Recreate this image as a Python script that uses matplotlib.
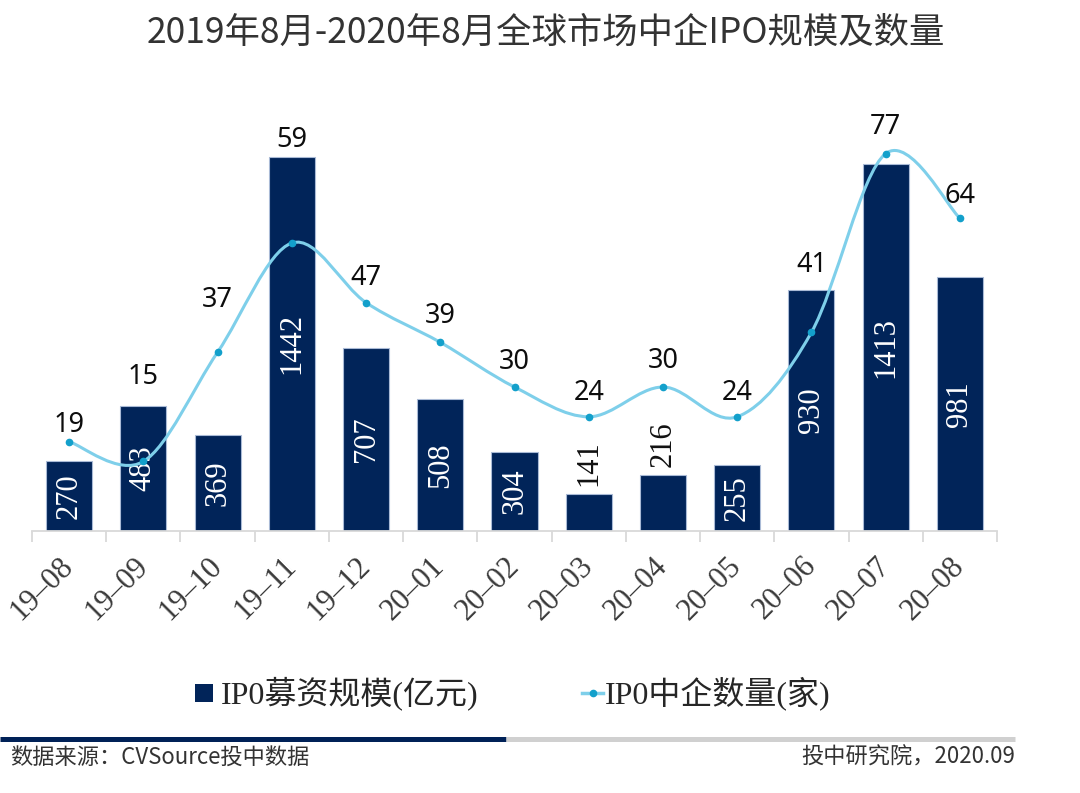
import matplotlib
matplotlib.use("Agg")
import matplotlib.pyplot as plt
from matplotlib.path import Path
from matplotlib.patches import PathPatch, Rectangle
from matplotlib.lines import Line2D
import numpy as np

# ---------------- data ----------------
months = ['19–08', '19–09', '19–10', '19–11', '19–12', '20–01', '20–02',
          '20–03', '20–04', '20–05', '20–06', '20–07', '20–08']
amount = [270, 483, 369, 1442, 707, 508, 304, 141, 216, 255, 930, 1413, 981]   # 亿元
count = [19, 15, 37, 59, 47, 39, 30, 24, 30, 24, 41, 77, 64]                   # 家

title = '2019年8月-2020年8月全球市场中企IPO规模及数量'
legend_bar = 'IP0募资规模(亿元)'
legend_line = 'IP0中企数量(家)'
source_left = '数据来源：CVSource投中数据'
source_right = '投中研究院，2020.09'

# label offsets above anchor (pixels) - layout only
count_label_dy = [17, 29, 52, 17, 25, 26, 25, 24, 26, 24, 25, 27, 22]

# ---------------- style ----------------
W, H = 1080, 793
NAVY = '#012459'
LINE = '#7ECFEA'
MARK = '#13A0CB'
GRAY = '#D9D9D9'
SERIF = ['Liberation Serif', 'Noto Sans CJK SC']
SANS = ['Noto Sans', 'Noto Sans CJK SC']
CJK = ['Noto Sans CJK SC', 'DejaVu Sans']

fig = plt.figure(figsize=(W / 100, H / 100), dpi=100)
fig.patch.set_facecolor('white')

ax_left, ax_right, ax_bottom, ax_top = 32, 997, 531, 100
ax = fig.add_axes([ax_left / W, 1 - ax_bottom / H, (ax_right - ax_left) / W, (ax_bottom - ax_top) / H])

x = np.arange(len(months))
y1max = 1661.6
y2lo, y2hi = 1.0, 87.8

ax.bar(x, amount, width=0.62, color=NAVY, edgecolor='#A9BAD6', linewidth=0.8, zorder=2)
ax.set_xlim(-0.5, len(months) - 0.5)
ax.set_ylim(0, y1max)

for s in ['top', 'right', 'left']:
    ax.spines[s].set_visible(False)
ax.spines['bottom'].set_color(GRAY)
ax.spines['bottom'].set_linewidth(1.3)
ax.set_yticks([])
ax.set_xticks(x)
ax.set_xticklabels(months, rotation=45, ha='right', va='center', rotation_mode='anchor',
                   family=SERIF, fontsize=22, color='#3A3A3A')
ax.tick_params(axis='x', which='major', length=0, pad=22)
ax.set_xticks(np.arange(-0.5, len(months), 1.0), minor=True)
ax.tick_params(axis='x', which='minor', length=8, width=1.3, color=GRAY, direction='out')

# bar value labels
for xi, v in zip(x, amount):
    if v >= 240:
        ax.text(xi, v / 2, str(v), rotation=90, ha='center', va='center',
                family=SERIF, fontsize=22, color='white', zorder=3)
    else:
        ax.annotate(str(v), xy=(xi, v), xytext=(0, 6), textcoords='offset points',
                    rotation=90, ha='center', va='bottom', family=SERIF, fontsize=22,
                    color='#111111', zorder=3)

# line on secondary axis
ax2 = ax.twinx()
ax2.set_ylim(y2lo, y2hi)
ax2.set_yticks([])
for s in ['top', 'right', 'left', 'bottom']:
    ax2.spines[s].set_visible(False)

pts = np.column_stack([x, count]).astype(float)
n = len(pts)
verts = [tuple(pts[0])]
codes = [Path.MOVETO]
for i in range(n - 1):
    p0 = pts[max(i - 1, 0)]
    p1 = pts[i]
    p2 = pts[i + 1]
    p3 = pts[min(i + 2, n - 1)]
    c1 = p1 + (p2 - p0) / 6.0
    c2 = p2 - (p3 - p1) / 6.0
    verts += [tuple(c1), tuple(c2), tuple(p2)]
    codes += [Path.CURVE4] * 3
ax2.add_patch(PathPatch(Path(verts, codes), facecolor='none', edgecolor=LINE, lw=2.2, zorder=4))
ax2.plot(x, count, 'o', ms=4.5, color=MARK, ls='none', zorder=5)

for xi, c, v, dy in zip(x, count, amount, count_label_dy):
    bar_top = y2lo + (v / y1max) * (y2hi - y2lo)
    anchor = max(c, bar_top)
    ax2.annotate(str(c), xy=(xi, anchor), xytext=(0, dy * 0.72), textcoords='offset points',
                 ha='center', va='center', family=SANS, fontsize=19.5, color='#0D0D0D', zorder=6)

# title
fig.text(546 / W, 1 - 33 / H, title, ha='center', va='center', family=CJK,
         fontsize=25.5, color='#333333')

# legend (manual)
ly = 1 - 693 / H
fig.add_artist(Rectangle((195 / W, 1 - 702 / H), 18 / W, 18 / H, transform=fig.transFigure,
                         facecolor=NAVY, edgecolor='none'))
fig.text(221 / W, ly, legend_bar, ha='left', va='center', family=SERIF, fontsize=23, color='#262626')
fig.add_artist(Line2D([582 / W, 603 / W], [ly, ly], transform=fig.transFigure, color=LINE, lw=2.5))
fig.add_artist(Line2D([592.5 / W], [ly], transform=fig.transFigure, marker='o', ms=4.5,
                      color=MARK, ls='none'))
fig.text(605 / W, ly, legend_line, ha='left', va='center', family=SERIF, fontsize=23, color='#262626')

# footer lines
fy = 1 - 739 / H
fig.add_artist(Line2D([0, 506 / W], [fy, fy], transform=fig.transFigure, color='#002157', lw=3.6,
                      solid_capstyle='butt'))
fig.add_artist(Line2D([506 / W, 1015 / W], [fy, fy], transform=fig.transFigure, color='#D0D0D0',
                      lw=3.6, solid_capstyle='butt'))

fig.text(10 / W, 1 - 757 / H, source_left, ha='left', va='center', family=CJK, fontsize=16,
         color='#333333')
fig.text(1015 / W, 1 - 757 / H, source_right, ha='right', va='center', family=CJK, fontsize=16,
         color='#333333')

fig.savefig('out.png', dpi=100, facecolor='white')
